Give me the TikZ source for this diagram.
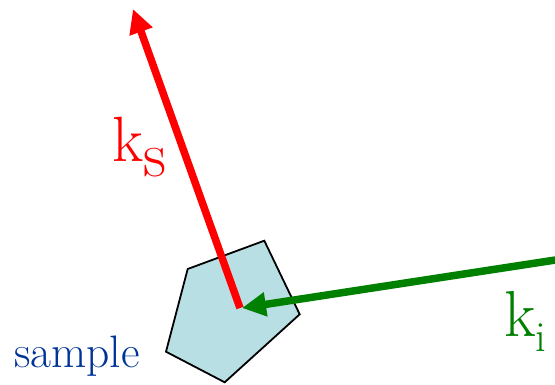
\documentclass[tikz,border=0pt]{standalone}
\usepackage{fontspec}
\usetikzlibrary{arrows.meta}
\definecolor{samplefill}{RGB}{184,223,228}
\definecolor{samplecol}{RGB}{0,51,153}
\definecolor{kgreen}{RGB}{0,128,0}
\tikzset{
  vec/.style={line width=7.5pt, -{Triangle[length=24pt,width=23pt]}},
  lbl/.style={inner sep=0pt, anchor=base west},
}
\begin{document}
\begin{tikzpicture}[x=1pt,y=-1pt]
\useasboundingbox (0,0) rectangle (555,385);
% sample pentagon
\coordinate (p1) at (264.3,240.7);
\coordinate (p2) at (187.7,269);
\coordinate (p3) at (166,351.7);
\coordinate (p4) at (224.7,382.3);
\coordinate (p5) at (299.7,314.3);
\draw[line width=1.8pt, fill=samplefill, line join=miter] (p1) -- (p2) -- (p3) -- (p4) -- (p5) -- cycle;
% arrows
\coordinate (c) at (240,308);
\coordinate (ksend) at (133,9);
\coordinate (kistart) at (560,259.3);
\coordinate (kiend) at (242,308);
\begin{scope}
\clip (0,0) rectangle (555,385);
\draw[vec, red] (c) -- (ksend);
\draw[vec, kgreen] (kistart) -- (kiend);
\end{scope}
% labels
\node[lbl, text=red, font=\rmfamily\fontsize{64}{70}\selectfont] (ks) at (112,162) {k\raisebox{-15pt}{s}};
\node[lbl, text=kgreen, font=\rmfamily\fontsize{65}{70}\selectfont] (ki) at (504,337) {k\raisebox{-14pt}{\fontsize{43}{50}\selectfont i}};
\node[lbl, text=samplecol, font=\rmfamily\fontsize{45.5}{50}\selectfont] (lab) at (14,367) {sample};
\end{tikzpicture}
\end{document}
